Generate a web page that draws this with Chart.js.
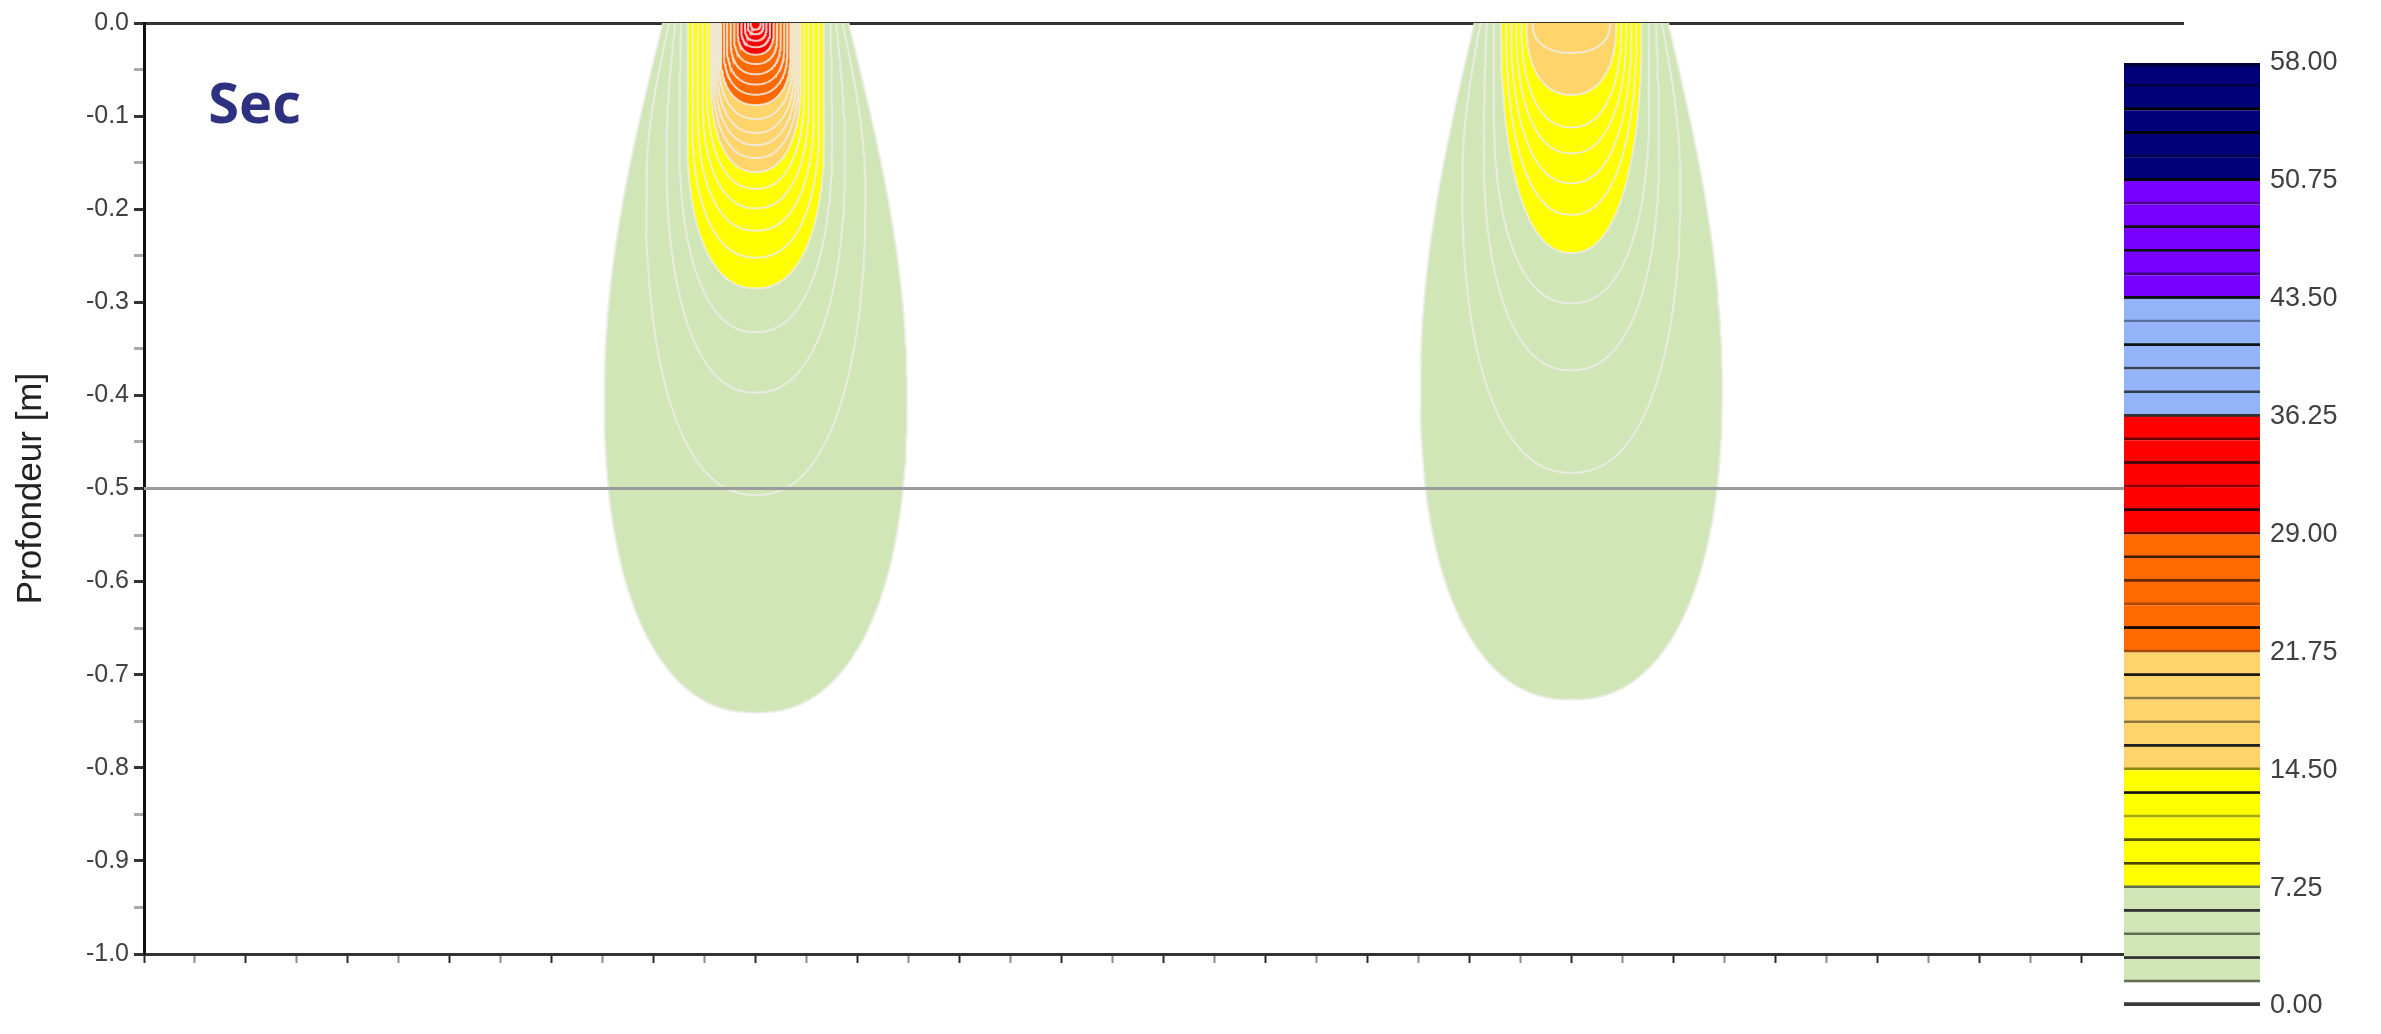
<!DOCTYPE html>
<html>
<head>
<meta charset="utf-8">
<script src="https://cdn.jsdelivr.net/npm/chart.js@4.4.1/dist/chart.umd.min.js"></script>
<style>
  html, body { margin: 0; padding: 0; background: #ffffff; }
  #wrap { position: relative; width: 2381px; height: 1034px; }
  #wrap canvas { position: absolute; left: 0; top: 0; }
</style>
</head>
<body>
<div id="wrap">
  <canvas id="main" width="2381" height="1034"></canvas>
  <canvas id="legend" width="2381" height="1034"></canvas>
</div>
<script>
// ================= DATA =================
// Horizontal extent (m) and depth extent (m)
const xExtent = [0, 4];
const depthExtent = [-1, 0];
// Y tick labels (every 0.1 m)
const yTickLabels = ['0.0','-0.1','-0.2','-0.3','-0.4','-0.5','-0.6','-0.7','-0.8','-0.9','-1.0'];
// Colour scale (legend) tick labels and values
const legendTickValues = [0, 7.25, 14.5, 21.75, 29, 36.25, 43.5, 50.75, 58];
const legendTickLabels = ['0.00','7.25','14.50','21.75','29.00','36.25','43.50','50.75','58.00'];
const levelStep = 1.45;          // contour interval
const levelCount = 40;           // 0 .. 58
// Reference horizontal line (depth, m)
const referenceDepth = -0.5;
// Condition label
const conditionLabel = 'Sec';

// Source positions (m)
const leftSourceX = 1.2;
const rightSourceX = 2.8;

// Left source: contour level index k (value = k * 1.45)
const leftLevels        = [1, 2, 3, 4, 5, 6, 7, 8, 9, 10, 11, 12, 13, 14, 15, 16, 17, 18, 19, 20, 21, 22, 23, 24];
const leftBottomDepth   = [0.741, 0.507, 0.397, 0.332, 0.285, 0.252, 0.223, 0.199, 0.178, 0.160, 0.145, 0.131, 0.118, 0.103, 0.088, 0.077, 0.066, 0.055, 0.044, 0.034, 0.026, 0.019, 0.012, 0.007];
const leftSurfaceHalfW  = [0.182, 0.170, 0.158, 0.146, 0.133, 0.123, 0.113, 0.104, 0.095, 0.088, 0.084, 0.080, 0.076, 0.072, 0.068, 0.062, 0.056, 0.049, 0.042, 0.035, 0.028, 0.021, 0.015, 0.010];
const leftMaxHalfW      = [0.297, 0.215, 0.175, 0.150, 0.134, 0.124, 0.114, 0.104, 0.095, 0.088, 0.084, 0.080, 0.076, 0.072, 0.068, 0.062, 0.056, 0.049, 0.042, 0.035, 0.028, 0.021, 0.015, 0.010];
const leftMaxWidthDepth = [0.400, 0.180, 0.140, 0.120, 0.120, 0.105, 0.090, 0.080, 0.070, 0.060, 0.055, 0.050, 0.045, 0.040, 0.035, 0.030, 0.025, 0.020, 0.015, 0.010, 0.008, 0.005, 0.003, 0.000];

// Right source
const rightLevels        = [1, 2, 3, 4, 5, 6, 7, 8, 9, 10, 11];
const rightBottomDepth   = [0.727, 0.483, 0.373, 0.301, 0.247, 0.206, 0.172, 0.140, 0.112, 0.077, 0.032];
const rightSurfaceHalfW  = [0.190, 0.178, 0.166, 0.152, 0.138, 0.128, 0.118, 0.108, 0.098, 0.088, 0.076];
const rightMaxHalfW      = [0.296, 0.214, 0.172, 0.152, 0.138, 0.128, 0.118, 0.108, 0.098, 0.088, 0.076];
const rightMaxWidthDepth = [0.390, 0.170, 0.130, 0.090, 0.000, 0.000, 0.000, 0.000, 0.000, 0.000, 0.000];

// ================= STYLES =================
const bandColors = ['#d0e6b6', '#ffff00', '#ffd46a', '#ff6a00', '#ff0000', '#94b4fa', '#7700ff', '#000078'];
const separatorColors = [
  '#5f6e50','#2a2a2a','#5f6e50','#333333','#5f6e50','#444400','#555500','#a8a800','#111111','#8a8a00',
  '#222222','#8a7a45','#907a40','#1a1a1a','#a84800','#000000','#b04800','#6a2a00','#3a1a00','#700000',
  '#2a0000','#880000','#440000','#660000','#333333','#333a4a','#3a4560','#111111','#5a70a0','#111111',
  '#400080','#111111','#111111','#500090','#000000','#000050','#000000','#000000','#000040','#000020'
];
const contourLineColor = 'rgba(236,236,232,0.85)';
const labelFont = 'Liberation Sans, Arial, sans-serif';

function bandColor(k) { return bandColors[Math.min(bandColors.length - 1, Math.floor(k / 5))]; }

// Build a contour outline (open at the surface) from its read parameters
function contourOutline(cx, db, wt, wm, dm) {
  const N = 36, P = 2.3;
  const side = [];
  if (dm > 0) {
    for (let i = 0; i < N; i++) {
      const f = i / N;
      side.push([wt + (wm - wt) * Math.sin(Math.PI / 2 * f), dm * f]);
    }
  }
  for (let i = 0; i <= N; i++) {
    const th = Math.PI / 2 * i / N;
    side.push([wm * Math.pow(Math.cos(th), 2 / P), dm + (db - dm) * Math.pow(Math.sin(th), 2 / P)]);
  }
  const pts = side.map(([w, d]) => ({ x: cx - w, y: -d }));
  for (let i = side.length - 2; i >= 0; i--) pts.push({ x: cx + side[i][0], y: -side[i][1] });
  return pts;
}

function blobDatasets(cx, levels, db, wt, wm, dm) {
  return levels.map((k, i) => ({
    label: 'niveau ' + (k * levelStep).toFixed(2),
    data: contourOutline(cx, db[i], wt[i], wm[i], dm[i]),
    backgroundColor: bandColor(k),
    borderColor: contourLineColor,
    borderWidth: 2,
    fill: 'shape',
    pointRadius: 0,
    tension: 0
  }));
}

// bottom-to-top drawing list
const drawList = []
  .concat(blobDatasets(leftSourceX, leftLevels, leftBottomDepth, leftSurfaceHalfW, leftMaxHalfW, leftMaxWidthDepth))
  .concat(blobDatasets(rightSourceX, rightLevels, rightBottomDepth, rightSurfaceHalfW, rightMaxHalfW, rightMaxWidthDepth));
drawList.push({
  label: 'ref',
  data: [{ x: xExtent[0], y: referenceDepth }, { x: xExtent[1], y: referenceDepth }],
  borderColor: '#9c9c9c',
  borderWidth: 3,
  fill: false,
  pointRadius: 0
});
// Chart.js draws higher "order" values first -> assign decreasing order
drawList.forEach((ds, i) => { ds.order = drawList.length - i; });

const isMajor = v => Math.abs(Math.round(v * 10) - v * 10) < 1e-6;

const labelPlugin = {
  id: 'conditionLabel',
  afterDatasetsDraw(chart) {
    const { ctx, scales } = chart;
    ctx.save();
    ctx.font = 'bold 56px "Open Sans", "Noto Sans", sans-serif';
    ctx.fillStyle = '#2e3080';
    ctx.textBaseline = 'alphabetic';
    ctx.textAlign = 'left';
    ctx.fillText(conditionLabel, scales.x.getPixelForValue(0.126), scales.y.getPixelForValue(-0.107));
    ctx.restore();
  }
};

new Chart(document.getElementById('main'), {
  type: 'line',
  data: { datasets: drawList },
  options: {
    responsive: false,
    animation: false,
    layout: { padding: { left: 0, right: 198, top: 0, bottom: 0 } },
    plugins: { legend: { display: false }, tooltip: { enabled: false }, title: { display: false } },
    scales: {
      x: {
        type: 'linear', position: 'bottom', min: xExtent[0], max: xExtent[1],
        afterFit: s => { s.height = 80; },
        ticks: { display: false, stepSize: 0.1, maxTicksLimit: 100 },
        grid: { drawOnChartArea: false, drawTicks: true, tickLength: 9, tickWidth: 2,
                tickColor: c => (c.index % 2 ? '#8c8c8c' : '#2a2a2a') },
        border: { color: '#333333', width: 3 }
      },
      xTop: {
        type: 'linear', position: 'top', min: xExtent[0], max: xExtent[1],
        afterFit: s => { s.height = 23; },
        ticks: { display: false },
        grid: { display: false, drawTicks: false },
        border: { color: '#333333', width: 3 }
      },
      y: {
        type: 'linear', position: 'left', min: depthExtent[0], max: depthExtent[1],
        afterFit: s => { s.width = 144; },
        ticks: {
          stepSize: 0.05, autoSkip: false, maxTicksLimit: 100, padding: 5,
          font: { family: labelFont, size: 25 }, color: '#404040',
          callback: v => isMajor(v) ? yTickLabels[Math.round(-v * 10)] : ''
        },
        grid: { drawOnChartArea: false, tickLength: 10, tickWidth: 3,
                tickColor: c => (c.tick && isMajor(c.tick.value) ? '#333333' : '#aaaaaa') },
        border: { color: '#111111', width: 3 },
        title: { display: true, text: 'Profondeur [m]', color: '#222222',
                 font: { family: labelFont, size: 35 }, padding: { top: 10, bottom: 0 } }
      }
    }
  },
  plugins: [labelPlugin]
});

// ================= COLOUR SCALE =================
const legendSets = [];
for (let k = 0; k < levelCount; k++) {
  const first = k === 0, last = k === levelCount - 1;
  legendSets.push({
    data: [levelStep],
    backgroundColor: first ? '#ffffff' : bandColor(k),
    borderColor: first ? '#3a3a3a' : separatorColors[k - 1],
    borderWidth: first ? { top: 0, bottom: 4, left: 0, right: 0 }
                       : { top: last ? 4 : 0, bottom: 3, left: 0, right: 0 },
    borderSkipped: false,
    barPercentage: 1,
    categoryPercentage: 1
  });
}

new Chart(document.getElementById('legend'), {
  type: 'bar',
  data: { labels: [''], datasets: legendSets },
  options: {
    responsive: false,
    animation: false,
    layout: { padding: { left: 2124, top: 63, bottom: 28, right: 0 } },
    plugins: { legend: { display: false }, tooltip: { enabled: false } },
    scales: {
      x: { stacked: true, display: false },
      y: {
        stacked: true, position: 'right', min: 0, max: 58,
        afterFit: s => { s.width = 121; },
        ticks: {
          stepSize: 7.25, padding: 10, color: '#404040',
          font: { family: labelFont, size: 27 },
          callback: v => {
            const i = legendTickValues.findIndex(t => Math.abs(t - v) < 1e-6);
            return i >= 0 ? legendTickLabels[i] : '';
          }
        },
        grid: { display: false, drawTicks: false },
        border: { display: false }
      }
    }
  }
});
</script>
</body>
</html>
